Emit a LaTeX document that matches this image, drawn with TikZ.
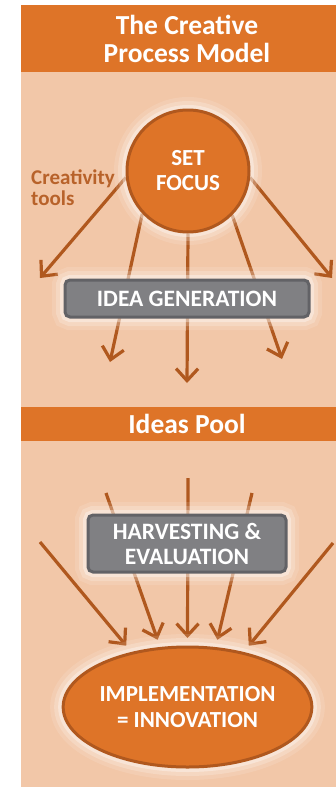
\documentclass[tikz,border=0pt]{standalone}
\usepackage{fontspec}
\setmainfont{Carlito}
\usepackage{tikz}
\usetikzlibrary{arrows.meta, shapes.geometric}

\definecolor{cporange}{RGB}{222,116,40}
\definecolor{cppeach}{RGB}{242,199,168}
\definecolor{cpbrown}{RGB}{176,88,30}
\definecolor{cptext}{RGB}{184,98,42}
\definecolor{cpgray}{RGB}{128,128,131}
\definecolor{cpgrayline}{RGB}{98,98,102}

\pgfdeclarelayer{back}
\pgfdeclarelayer{mid}
\pgfsetlayers{back,mid,main}

\begin{document}
\begin{tikzpicture}[
  x=1pt, y=-1pt,
  glow/.style={
    preaction={draw=white, line width=26pt, draw opacity=0.12},
    preaction={draw=white, line width=18pt, draw opacity=0.2},
    preaction={draw=white, line width=10pt, draw opacity=0.35}},
  bar/.style={fill=cporange},
  title/.style={text=white, font=\bfseries\fontsize{27.5}{28}\selectfont, align=center},
  bubble/.style={glow, fill=cporange, draw=cpbrown, line width=3pt,
    text=white, font=\bfseries\fontsize{23}{25}\selectfont, align=center},
  stage/.style={glow, fill=cpgray, draw=cpgrayline, line width=3pt,
    rounded corners=5pt, text=white, font=\bfseries\fontsize{23.5}{25}\selectfont,
    align=center, inner sep=0pt},
  flow/.style={draw=cpbrown, line width=3.2pt,
    -{Straight Barb[length=12pt, width=22pt, line width=3.2pt]}}
]
\useasboundingbox (0,0) rectangle (336,787);

% panels
\begin{pgfonlayer}{back}
  \fill[cppeach] (21,5) rectangle (336,787);
  \fill[bar] (21,5) rectangle (336,72);
  \fill[bar] (21,407) rectangle (336,441);
\end{pgfonlayer}

\node[title] (head) at (187,39) {The Creative\\Process Model};
\node[title] (pool) at (187,424) {Ideas Pool};

% idea generation
\node[bubble, circle, minimum size=122pt, inner sep=0pt] (focus) at (188,171) {SET\\FOCUS};
\node[text=cptext, font=\bfseries\fontsize{21}{21}\selectfont, align=left,
  anchor=west, inner sep=0pt] (tools) at (31,188) {Creativity\\tools};
\node[stage, minimum width=244pt, minimum height=37pt] (gen) at (187,298.5) {IDEA GENERATION};

\coordinate (g1) at (40,278);
\coordinate (g2) at (110,362);
\coordinate (g3) at (187,383);
\coordinate (g4) at (282,359);
\coordinate (g5) at (332,278);

% harvesting
\node[stage, minimum width=198pt, minimum height=57pt] (harv) at (187,543.5) {HARVESTING \&\\EVALUATION};
\node[bubble, ellipse, minimum width=216pt, minimum height=120pt, inner sep=0pt,
  outer sep=9pt, font=\bfseries\fontsize{23}{26}\selectfont] (impl) at (187.5,707)
  {IMPLEMENTATION\\= INNOVATION};

\coordinate (h1) at (40,542);
\coordinate (h2) at (106,493);
\coordinate (h3) at (188,478);
\coordinate (h4) at (252,493);
\coordinate (h5) at (333,543);

\begin{pgfonlayer}{mid}
  \draw[flow] (focus.186) -- (g1);
  \draw[flow] (focus.223) -- (g2);
  \draw[flow] (focus.270) -- (g3);
  \draw[flow] (focus.315) -- (g4);
  \draw[flow] (focus.354) -- (g5);
  \draw[flow] (h1) -- (impl.135);
  \draw[flow] (h2) -- (impl.114);
  \draw[flow] (h3) -- (impl.90);
  \draw[flow] (h4) -- (impl.66);
  \draw[flow] (h5) -- (impl.45);
\end{pgfonlayer}
\end{tikzpicture}
\end{document}
